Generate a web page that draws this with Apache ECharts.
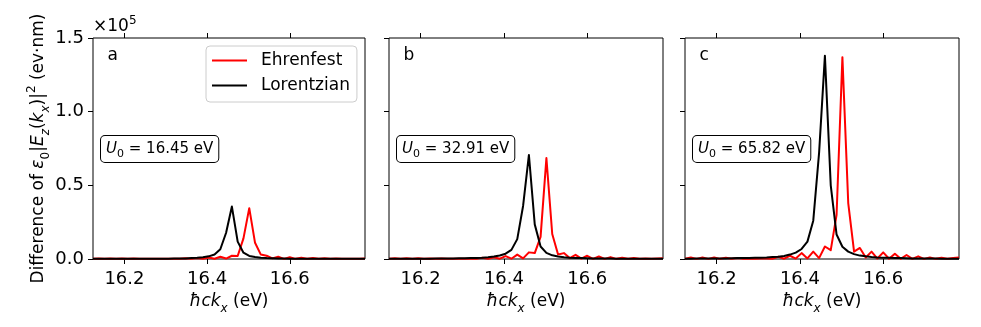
<!DOCTYPE html>
<html>
<head>
<meta charset="utf-8">
<script src="https://cdn.jsdelivr.net/npm/echarts@6/dist/echarts.min.js"></script>
<style>
html, body { margin: 0; padding: 0; background: #fff; }
#chart { width: 981px; height: 327px; }
</style>
</head>
<body>
<div id="chart"></div>
<script>
// photon energy hbar*c*kx (eV)
const energy = [
  16.124, 16.138, 16.152, 16.166, 16.180, 16.194, 16.208, 16.222, 16.236, 16.250, 16.264, 16.278,
  16.292, 16.306, 16.320, 16.334, 16.348, 16.362, 16.376, 16.390, 16.404, 16.418, 16.432, 16.446,
  16.460, 16.474, 16.488, 16.502, 16.516, 16.530, 16.544, 16.558, 16.572, 16.586, 16.600, 16.614,
  16.628, 16.642, 16.656, 16.670, 16.684, 16.698, 16.712, 16.726, 16.740, 16.754, 16.768, 16.782
]

// values in units of 1e5 (ev*nm)
const ehrenfestA = [
  0.001, 0.003, 0.001, 0.003, 0.001, 0.003, 0.001, 0.003, 0.001, 0.002, 0.001, 0.002,
  0.001, 0.002, 0.001, 0.002, 0.005, 0.001, 0.006, 0.001, 0.010, 0.002, 0.015, 0.003,
  0.022, 0.020, 0.140, 0.345, 0.110, 0.030, 0.022, 0.004, 0.015, 0.001, 0.012, 0.001,
  0.009, 0.001, 0.007, 0.001, 0.005, 0.001, 0.003, 0.001, 0.002, 0.001, 0.002, 0.003
]
const lorentzianA = [
  0.001, 0.001, 0.001, 0.001, 0.001, 0.001, 0.001, 0.001, 0.001, 0.001, 0.002, 0.002,
  0.002, 0.002, 0.003, 0.003, 0.004, 0.006, 0.008, 0.012, 0.018, 0.031, 0.066, 0.178,
  0.356, 0.118, 0.043, 0.021, 0.013, 0.008, 0.006, 0.005, 0.004, 0.003, 0.002, 0.002,
  0.002, 0.002, 0.001, 0.001, 0.001, 0.001, 0.001, 0.001, 0.001, 0.001, 0.001, 0.001
]
const ehrenfestB = [
  0.001, 0.005, 0.001, 0.005, 0.001, 0.005, 0.001, 0.004, 0.001, 0.003, 0.001, 0.002,
  0.001, 0.002, 0.002, 0.001, 0.008, 0.001, 0.012, 0.002, 0.020, 0.002, 0.030, 0.004,
  0.045, 0.040, 0.150, 0.685, 0.170, 0.030, 0.040, 0.006, 0.028, 0.002, 0.022, 0.001,
  0.017, 0.001, 0.013, 0.001, 0.009, 0.001, 0.006, 0.001, 0.004, 0.001, 0.003, 0.005
]
const lorentzianB = [
  0.001, 0.001, 0.001, 0.002, 0.002, 0.002, 0.002, 0.002, 0.003, 0.003, 0.003, 0.004,
  0.005, 0.005, 0.006, 0.007, 0.009, 0.012, 0.017, 0.024, 0.036, 0.062, 0.135, 0.360,
  0.706, 0.235, 0.085, 0.042, 0.025, 0.017, 0.012, 0.009, 0.007, 0.006, 0.005, 0.004,
  0.003, 0.003, 0.003, 0.002, 0.002, 0.002, 0.002, 0.001, 0.001, 0.001, 0.001, 0.001
]
const ehrenfestC = [
  0.002, 0.010, 0.001, 0.010, 0.001, 0.010, 0.001, 0.009, 0.001, 0.006, 0.001, 0.004,
  0.002, 0.003, 0.004, 0.002, 0.015, 0.002, 0.022, 0.003, 0.040, 0.004, 0.050, 0.006,
  0.085, 0.060, 0.300, 1.370, 0.380, 0.050, 0.075, 0.010, 0.050, 0.003, 0.045, 0.002,
  0.036, 0.001, 0.027, 0.001, 0.018, 0.001, 0.011, 0.001, 0.008, 0.001, 0.006, 0.010
]
const lorentzianC = [
  0.002, 0.002, 0.003, 0.003, 0.003, 0.003, 0.004, 0.004, 0.005, 0.006, 0.006, 0.007,
  0.008, 0.009, 0.010, 0.013, 0.016, 0.021, 0.030, 0.043, 0.068, 0.118, 0.260, 0.720,
  1.380, 0.500, 0.166, 0.083, 0.050, 0.033, 0.023, 0.018, 0.014, 0.011, 0.009, 0.008,
  0.006, 0.006, 0.005, 0.004, 0.004, 0.003, 0.003, 0.003, 0.002, 0.002, 0.002, 0.002
]

const panelLetters = ['a', 'b', 'c']
const u0Values = ['16.45', '32.91', '65.82']
const xTicks = [16.2, 16.4, 16.6]
const seriesNames = ['Ehrenfest', 'Lorentzian']

const ehrenfest = [ehrenfestA, ehrenfestB, ehrenfestC]
const lorentzian = [lorentzianA, lorentzianB, lorentzianC]

const font = 'DejaVu Sans'
const panelLeft = [93, 389, 685]
const panelWidth = [272, 274, 274]
const plotTop = 38
const plotHeight = 221

const mathRich = {
  n: { fontFamily: font, fontSize: 17, color: '#000', lineHeight: 26, verticalAlign: 'middle' },
  i: { fontFamily: font, fontSize: 17, color: '#000', fontStyle: 'italic', lineHeight: 26, verticalAlign: 'middle' },
  sub: { fontFamily: font, fontSize: 12, color: '#000', lineHeight: 16, verticalAlign: 'bottom' },
  isub: { fontFamily: font, fontSize: 12, color: '#000', fontStyle: 'italic', lineHeight: 16, verticalAlign: 'bottom' },
  sup: { fontFamily: font, fontSize: 12, color: '#000', lineHeight: 16, verticalAlign: 'top' }
}

const chart = echarts.init(document.getElementById('chart'))

const grid = [], xAxis = [], yAxis = [], series = [], graphic = []

for (let p = 0; p < 3; p++) {
  grid.push({
    left: panelLeft[p], width: panelWidth[p], top: plotTop, height: plotHeight,
    show: true, borderColor: '#000', borderWidth: 1, backgroundColor: 'transparent'
  })
  const tickStyle = { show: true, inside: false, length: 5, lineStyle: { color: '#000', width: 1 }, customValues: xTicks }
  xAxis.push({
    gridIndex: p, type: 'value', position: 'bottom', min: 16.124, max: 16.782,
    axisLine: { show: false },
    axisTick: tickStyle,
    axisLabel: {
      customValues: xTicks, formatter: v => v.toFixed(1),
      fontFamily: font, fontSize: 18, color: '#000', margin: 11
    },
    splitLine: { show: false },
    name: '{i|ħck}{isub|x}{n| (eV)}',
    nameLocation: 'middle', nameGap: 26,
    nameTextStyle: { rich: mathRich }
  })
  xAxis.push({
    gridIndex: p, type: 'value', position: 'top', min: 16.124, max: 16.782,
    axisLine: { show: false },
    axisTick: tickStyle,
    axisLabel: { show: false },
    splitLine: { show: false }
  })
  yAxis.push({
    gridIndex: p, type: 'value', min: 0, max: 1.5, interval: 0.5,
    axisLine: { show: false },
    axisTick: { show: true, inside: false, length: 5, lineStyle: { color: '#000', width: 1 } },
    axisLabel: {
      show: p === 0, formatter: v => v.toFixed(1),
      fontFamily: font, fontSize: 18, color: '#000', margin: 9
    },
    splitLine: { show: false },
    name: p === 0 ? '{n|Difference of }{i|ε}{sub|0}{n||}{i|E}{isub|z}{n|(}{i|k}{isub|x}{n|)|}{sup|2}{n| (ev·nm)}' : '',
    nameLocation: 'middle', nameRotate: 90, nameGap: 36,
    nameTextStyle: { rich: mathRich }
  })

  series.push({
    name: seriesNames[0], type: 'line', xAxisIndex: p * 2, yAxisIndex: p,
    data: energy.map((e, i) => [e, ehrenfest[p][i]]),
    symbol: 'none', color: '#ff0000',
    lineStyle: { color: '#ff0000', width: 2, join: 'round' },
    animation: false
  })
  series.push({
    name: seriesNames[1], type: 'line', xAxisIndex: p * 2, yAxisIndex: p,
    data: energy.map((e, i) => [e, lorentzian[p][i]]),
    symbol: 'none', color: '#000000',
    lineStyle: { color: '#000000', width: 2, join: 'round' },
    animation: false
  })

  graphic.push({
    type: 'text', x: panelLeft[p] + 14.5, y: 55.5,
    style: { text: panelLetters[p], fontFamily: font, fontSize: 17, fill: '#000', align: 'left', verticalAlign: 'middle' }
  })
  graphic.push({
    type: 'text', x: panelLeft[p] + 8, y: 149,
    style: {
      text: '{i|U}{sub|0}{n| = ' + u0Values[p] + ' eV}',
      rich: {
        n: { fontFamily: font, fontSize: 15, fill: '#000', lineHeight: 22, verticalAlign: 'middle' },
        i: { fontFamily: font, fontSize: 15, fill: '#000', fontStyle: 'italic', lineHeight: 22, verticalAlign: 'middle' },
        sub: { fontFamily: font, fontSize: 11, fill: '#000', lineHeight: 14, verticalAlign: 'bottom' }
      },
      align: 'left', verticalAlign: 'middle',
      backgroundColor: '#fff', borderColor: '#000', borderWidth: 1, borderRadius: 4,
      padding: [2, 5, 2, 5]
    }
  })
}

graphic.push({
  type: 'text', x: 93, y: 27,
  style: {
    text: '{n|×10}{sup|5}',
    rich: {
      n: { fontFamily: font, fontSize: 17, fill: '#000', lineHeight: 24, verticalAlign: 'middle' },
      sup: { fontFamily: font, fontSize: 12, fill: '#000', lineHeight: 14, verticalAlign: 'top' }
    },
    align: 'left', verticalAlign: 'middle'
  }
})

chart.setOption({
  animation: false,
  grid, xAxis, yAxis, series, graphic,
  legend: {
    data: seriesNames, orient: 'vertical', left: 206, top: 46,
    icon: 'rect', itemWidth: 35, itemHeight: 2, itemGap: 8,
    backgroundColor: '#fff', borderColor: '#cccccc', borderWidth: 1, borderRadius: 4,
    padding: [6, 7, 8, 6],
    textStyle: { fontFamily: font, fontSize: 17, color: '#000', padding: [0, 0, 0, 9] }
  }
})
</script>
</body>
</html>
